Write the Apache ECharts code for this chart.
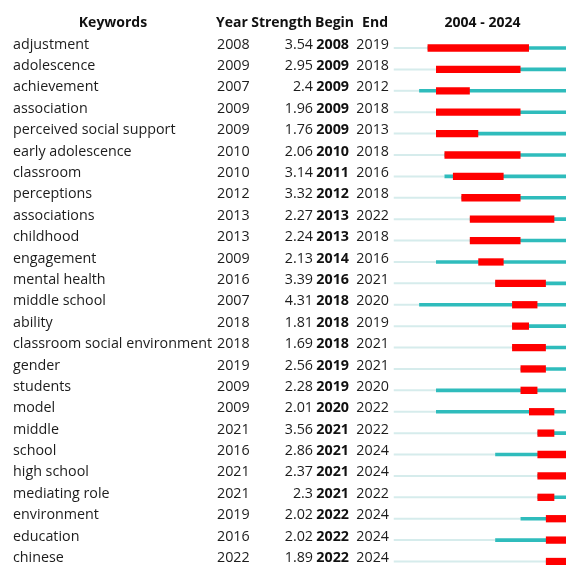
<!DOCTYPE html>
<html><head><meta charset="utf-8">
<script src="https://cdn.jsdelivr.net/npm/echarts@6/dist/echarts.min.js"></script>
<style>html,body{margin:0;padding:0;background:#fff}#c{width:566px;height:565px}</style>
</head><body><div id="c"></div>
<script>
const keywords = ["adjustment","adolescence","achievement","association","perceived social support","early adolescence","classroom","perceptions","associations","childhood","engagement","mental health","middle school","ability","classroom social environment","gender","students","model","middle","school","high school","mediating role","environment","education","chinese"];
const years = [2008,2009,2007,2009,2009,2010,2010,2012,2013,2013,2009,2016,2007,2018,2018,2019,2009,2009,2021,2016,2021,2021,2019,2016,2022];
const strengths = ["3.54","2.95","2.4","1.96","1.76","2.06","3.14","3.32","2.27","2.24","2.13","3.39","4.31","1.81","1.69","2.56","2.28","2.01","3.56","2.86","2.37","2.3","2.02","2.02","1.89"];
const begins = [2008,2009,2009,2009,2009,2010,2011,2012,2013,2013,2014,2016,2018,2018,2018,2019,2019,2020,2021,2021,2021,2021,2022,2022,2022];
const ends = [2019,2018,2012,2018,2013,2018,2016,2018,2022,2018,2016,2021,2020,2019,2021,2021,2020,2022,2022,2024,2024,2022,2024,2024,2024];
const startYear = 2004, endYear = 2024;

const FONT = "Open Sans";
const FS = 14.3;
const ROW = 21.4, TOP = 48;
const chart = echarts.init(document.getElementById('c'));
const idx = keywords.map((k,i)=>i);
const lastRow = keywords.length - 1;

function seg(getFrom, getTo, h, color){
  return {
    type:'custom', coordinateSystem:'cartesian2d', clip:false,
    data: idx.map(i=>[getFrom(i), getTo(i), i]),
    encode:{x:[0,1], y:2},
    renderItem:(params, api)=>{
      const a = api.coord([api.value(0), api.value(2)]);
      const b = api.coord([api.value(1), api.value(2)]);
      return {type:'rect', shape:{x:a[0], y:a[1]-h/2, width:b[0]-a[0], height:h}, style:{fill:color}};
    },
    silent:true, animation:false
  };
}
const txt = {fontFamily:FONT, fontSize:FS, color:'#1c1c1c'};

const option = {
  animation:false,
  backgroundColor:'#fff',
  grid:{left:393.75, right:0, top:TOP, bottom:565-(TOP+lastRow*ROW), containLabel:false},
  xAxis:{type:'value', min:startYear, max:2024.38, show:false},
  yAxis:{type:'value', inverse:true, min:0, max:lastRow, interval:1,
    axisLine:{show:false}, axisTick:{show:false}, splitLine:{show:false},
    axisLabel:{margin:4.75, showMinLabel:true, showMaxLabel:true, padding:[0,0,7,0], fontFamily:FONT, fontSize:FS, color:'#1c1c1c',
      formatter:(v)=>{
        const i = Math.round(v);
        if (Math.abs(v-i) > 1e-6 || i < 0 || i >= keywords.length) return '';
        return `{k|${keywords[i]}}{y|${years[i]}}{s|${strengths[i]}}{b|${begins[i]}}{e|${ends[i]}}`;
      },
      rich:{
        k:Object.assign({width:204, align:'left'}, txt),
        y:Object.assign({width:56, align:'left'}, txt),
        s:Object.assign({width:40, align:'right'}, txt),
        b:Object.assign({}, txt, {width:36, align:'right', fontWeight:'bold', color:'#111'}),
        e:Object.assign({width:40, align:'right'}, txt)
      }
    }
  },
  graphic:[
    {type:'text', x:113, y:16, style:{text:'Keywords', textAlign:'center', font:`bold 14px "${FONT}"`, fill:'#111'}},
    {type:'text', x:216, y:16, style:{text:'Year', font:`bold 14px "${FONT}"`, fill:'#111'}},
    {type:'text', x:312, y:16, style:{text:'Strength', textAlign:'right', font:`bold 14px "${FONT}"`, fill:'#111'}},
    {type:'text', x:315, y:16, style:{text:'Begin', font:`bold 14px "${FONT}"`, fill:'#111'}},
    {type:'text', x:388, y:16, style:{text:'End', textAlign:'right', font:`bold 14px "${FONT}"`, fill:'#111'}},
    {type:'text', x:482.5, y:16, style:{text:'2004 - 2024', textAlign:'center', font:`bold 14px "${FONT}"`, fill:'#111'}}
  ],
  series:[
    seg(i=>startYear, i=>years[i], 2, '#d6ecec'),
    seg(i=>years[i], i=>endYear+1, 3.6, '#2fbcbc'),
    seg(i=>begins[i], i=>ends[i]+1, 7.3, '#ff0000')
  ]
};
chart.setOption(option);
</script></body></html>
